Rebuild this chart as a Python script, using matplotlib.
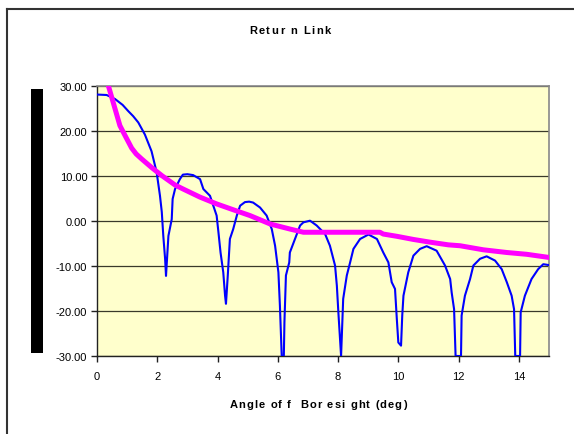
import matplotlib
matplotlib.use("Agg")
import matplotlib.pyplot as plt
from matplotlib.patches import Rectangle
from matplotlib.lines import Line2D

plt.rcParams['font.family'] = ['Liberation Sans', 'DejaVu Sans']

# Blue: antenna gain pattern (dB) vs angle off boresight (deg)
pattern_x = [0.0, 0.32, 0.6, 0.85, 1.04, 1.2, 1.37, 1.59, 1.81, 1.98, 2.09, 2.15, 2.2, 2.26, 2.29,
             2.37, 2.48, 2.51, 2.59, 2.75, 2.85, 3.0, 3.19, 3.42, 3.53, 3.75, 3.86, 3.97,
             4.03, 4.1, 4.19, 4.25, 4.28, 4.34, 4.41, 4.52, 4.64, 4.75, 4.91, 5.05, 5.18,
             5.41, 5.63, 5.8, 5.91, 6.02, 6.07, 6.13, 6.2, 6.22, 6.27, 6.38, 6.4, 6.57,
             6.74, 6.85, 7.07, 7.29, 7.57, 7.73, 7.9, 7.96, 8.01, 8.1, 8.17, 8.29, 8.4,
             8.51, 8.73, 9.01, 9.29, 9.5, 9.67, 9.78, 9.89, 9.95, 10.0, 10.09, 10.13,
             10.17, 10.33, 10.5, 10.72, 10.94, 11.27, 11.55, 11.72, 11.77, 11.85, 11.9,
             12.08, 12.1, 12.21, 12.38, 12.49, 12.71, 12.93, 13.21, 13.43, 13.6, 13.76,
             13.84, 13.88, 14.04, 14.06, 14.2, 14.42, 14.64, 14.81, 15.0]
pattern_y = [28.1, 28.0, 27.1, 25.8, 24.4, 23.3, 21.9, 19.2, 15.5, 10.8, 5.6, 2.0, -3.3, -8.4, -12.2,
             -3.3, 0.4, 4.9, 7.1, 9.3, 10.3, 10.4, 10.2, 9.3, 7.1, 5.6, 3.4, 1.2,
             -2.5, -7.0, -11.4, -16.6, -18.4, -12.1, -4.0, -1.8, 1.2, 3.4, 4.2, 4.3, 4.1,
             3.0, 1.2, -1.8, -5.5, -11.4, -18.8, -30.0, -30.0, -22.5, -12.1, -9.2, -7.0, -4.0,
             -1.0, -0.3, 0.07, -1.0, -2.9, -5.5, -9.9, -14.4, -20.3, -30.0, -17.3, -12.1, -9.2,
             -6.2, -4.0, -3.0, -4.0, -7.0, -9.2, -13.6, -15.1, -21.8, -27.0, -27.7, -21.0,
             -16.6, -11.4, -7.7, -6.2, -5.6, -6.6, -9.9, -12.9, -15.9, -19.6, -30.0,
             -30.0, -21.0, -16.6, -12.9, -9.9, -8.4, -7.85, -8.8, -10.7, -13.6, -16.6,
             -19.6, -30.0, -30.0, -20.3, -16.6, -12.9, -10.7, -9.6, -9.8]

# Magenta: required level
req_x = [0.3, 0.38, 0.6, 0.76, 0.93, 1.15, 1.3, 1.48, 1.81, 2.15, 2.59, 2.86, 3.42, 3.97,
         4.52, 5.08, 5.75, 6.41, 6.85, 7.73, 8.4, 9.39, 9.5, 9.95, 10.5, 11.05, 11.66,
         12.05, 12.82, 13.6, 14.26, 15.0]
req_y = [32.0, 30.0, 24.9, 21.2, 19.0, 16.2, 14.9, 13.8, 11.9, 10.1, 8.0, 7.1, 5.3, 3.8,
         2.5, 1.2, -0.67, -1.8, -2.5, -2.5, -2.5, -2.5, -2.9, -3.4, -4.1, -4.7, -5.3,
         -5.5, -6.4, -7.0, -7.4, -8.1]

x_ticks = [0, 2, 4, 6, 8, 10, 12, 14]
y_ticks = [-30, -20, -10, 0, 10, 20, 30]
y_tick_labels = ["-30.00", "-20.00", "-10.00", "0.00", "10.00", "20.00", "30.00"]

W, H = 574, 435
fig = plt.figure(figsize=(W / 100, H / 100), dpi=100)
fig.patch.set_facecolor('white')

# outer chart frame (extends beyond the right/bottom edges)
fig.add_artist(Line2D([7 / W, 7 / W], [0, 1 - 10 / H], transform=fig.transFigure,
                      color='#333333', lw=1.5))
fig.add_artist(Line2D([7 / W, 1], [1 - 10 / H, 1 - 10 / H], transform=fig.transFigure,
                      color='#333333', lw=1.5))

# black bar at the left (y-axis title block)
fig.add_artist(Rectangle((31 / W, 1 - 354 / H), 12 / W, 264 / H,
                         transform=fig.transFigure, facecolor='black', edgecolor='none'))

left, right, top, bottom = 97 / W, 549 / W, 1 - 87 / H, 1 - 357 / H
ax = fig.add_axes([left, bottom, right - left, top - bottom])
ax.set_facecolor('#FFFFCC')

ax.plot(pattern_x, pattern_y, color='#0000FF', lw=1.5, zorder=3, clip_on=True)
ax.plot(req_x, req_y, color='#FF00FF', lw=3.6, zorder=4, clip_on=True)

ax.set_xlim(0, 15)
ax.set_ylim(-30, 30)
ax.set_xticks(x_ticks)
ax.set_yticks(y_ticks)
ax.set_yticklabels(y_tick_labels)
ax.grid(axis='y', color='#3a3a2a', lw=0.9)
ax.set_axisbelow(True)

for s in ['top', 'right']:
    ax.spines[s].set_color('#888888')
    ax.spines[s].set_linewidth(1.2)
for s in ['left', 'bottom']:
    ax.spines[s].set_color('#222222')
    ax.spines[s].set_linewidth(1.0)

ax.tick_params(axis='both', direction='out', length=4, width=1, color='#222222',
               labelsize=8, pad=3)
ax.tick_params(axis='x', pad=7)

renderer = fig.canvas.get_renderer()


def tracked_text(s, cx, cy, track_px, **kw):
    """Draw text centered at (cx, cy) pixels with extra letter spacing."""
    widths = []
    for ch in s:
        t = fig.text(0, 0, ch if ch != ' ' else 'a', **kw)
        w = t.get_window_extent(renderer).width
        if ch == ' ':
            t2 = fig.text(0, 0, 'a a', **kw)
            w = t2.get_window_extent(renderer).width - 2 * w
            t2.remove()
        t.remove()
        widths.append(w)
    total = sum(widths) + track_px * (len(s) - 1)
    x = cx - total / 2
    for ch, w in zip(s, widths):
        if ch != ' ':
            fig.text(x / W, 1 - cy / H, ch, ha='left', va='center', **kw)
        x += w + track_px


tracked_text("Retur n Link", 290, 31, 1.5, fontsize=8, fontweight='bold')
tracked_text("Angle of f  Bor esi ght (deg)", 318, 405, 1.1, fontsize=8, fontweight='bold')

fig.savefig("out.png", dpi=100)
